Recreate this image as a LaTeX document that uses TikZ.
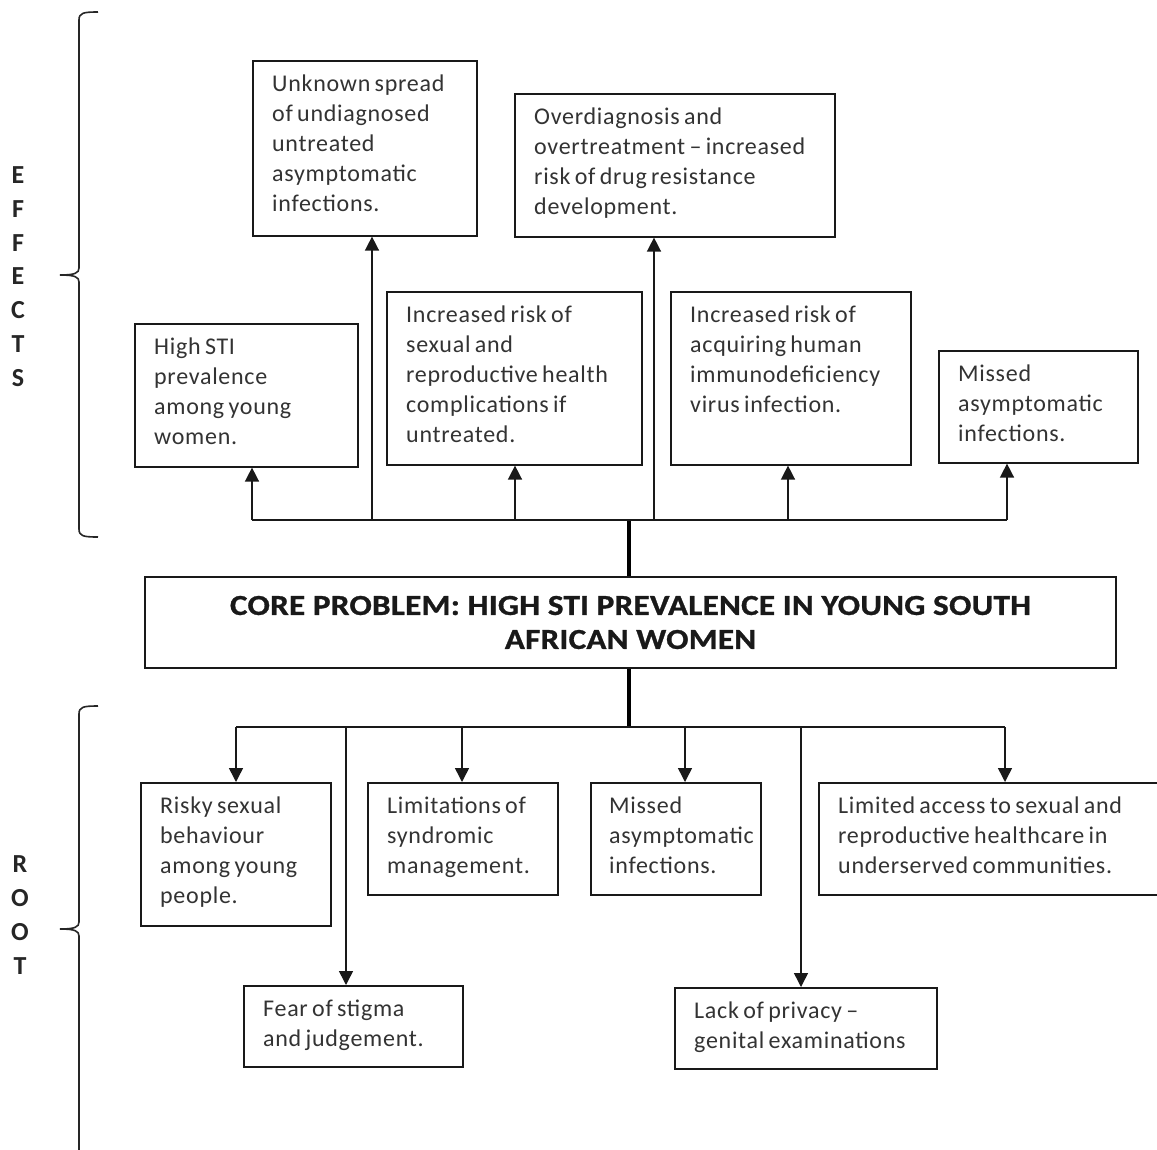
\documentclass[tikz,border=0pt]{standalone}
\usepackage{fontspec}
\setmainfont{Carlito}
\newfontfamily\bodyf[LetterSpace=3,WordSpace=0.7]{Carlito}
\newfontfamily\coref[FakeStretch=1.14,LetterSpace=1,FakeBold=1]{Carlito Bold}
\usetikzlibrary{arrows.meta}
\definecolor{txtgray}{HTML}{333333}
\begin{document}
\begin{tikzpicture}[x=1pt,y=-1pt,
  box/.style={draw=black!90, line width=1.6pt, inner sep=0pt, anchor=north west},
  txt/.style={inner sep=0pt, anchor=north west, align=left, text=txtgray,
              font=\bodyf\fontsize{24}{30}\selectfont},
  conn/.style={line width=1.5pt, draw=black!90},
  arr/.style={conn, -{Triangle[length=14pt,width=14pt]}},
  thickline/.style={line width=3.5pt, draw=black},
  side/.style={inner sep=0pt, align=center, text=black!85, font=\bfseries\fontsize{26}{33.8}\selectfont},
  bracket/.style={line width=1.6pt, draw=black!85}
]
\useasboundingbox[fill=white] (0,0) rectangle (1157,1149);

% ---------- side labels and brackets ----------
\node[side] (eff) at (18,276.5) {E\\F\\F\\E\\C\\T\\S};
\node[side] (root) at (20,915) {R\\O\\O\\T};
\draw[bracket] (98,12) .. controls (83,12) and (79,13) .. (79,20) -- (79,268)
  .. controls (79,273) and (75,275) .. (60,275);
\draw[bracket] (60,275) .. controls (75,275) and (79,277) .. (79,282) -- (79,529)
  .. controls (79,536) and (83,537) .. (98,537);
\draw[bracket] (98,706) .. controls (83,706) and (79,707) .. (79,714) -- (79,922)
  .. controls (79,927) and (75,929) .. (60,929);
\draw[bracket] (60,929) .. controls (75,929) and (79,931) .. (79,936) -- (79,1152);

% ---------- effects boxes ----------
\node[box, minimum width=223pt, minimum height=143pt] (b1) at (134,323) {};
\node[box, minimum width=224pt, minimum height=175pt] (b2) at (252,60) {};
\node[box, minimum width=255pt, minimum height=173pt] (b3) at (386,291) {};
\node[box, minimum width=320pt, minimum height=143pt] (b4) at (514,93) {};
\node[box, minimum width=240pt, minimum height=173pt] (b5) at (670,291) {};
\node[box, minimum width=199pt, minimum height=112pt] (b6) at (938,350) {};

\node[txt] (b1t) at ([xshift=20pt,yshift=-10pt]b1.north west) {\strut High STI\\prevalence\\among young\\women.};
\node[txt] (b2t) at ([xshift=20pt,yshift=-10pt]b2.north west) {\strut Unknown spread\\of undiagnosed\\untreated\\asymptomatic\\infections.};
\node[txt] (b3t) at ([xshift=20pt,yshift=-10pt]b3.north west) {\strut Increased risk of\\sexual and\\reproductive health\\complications if\\untreated.};
\node[txt] (b4t) at ([xshift=20pt,yshift=-10pt]b4.north west) {\strut Overdiagnosis and\\overtreatment \textendash{} increased\\risk of drug resistance\\development.};
\node[txt] (b5t) at ([xshift=20pt,yshift=-10pt]b5.north west) {\strut Increased risk of\\acquiring human\\immunodeficiency\\virus infection.};
\node[txt] (b6t) at ([xshift=20pt,yshift=-10pt]b6.north west) {\strut Missed\\asymptomatic\\infections.};

% ---------- core problem ----------
\node[draw=black!90, line width=1.6pt, minimum width=971pt, minimum height=91pt,
      inner sep=0pt, align=center, text=black!90,
      font=\coref\fontsize{29}{34}\selectfont] (core) at (630.5,622.5)
  {CORE PROBLEM: HIGH STI PREVALENCE IN YOUNG SOUTH\\AFRICAN WOMEN};

% ---------- root boxes ----------
\node[box, minimum width=190pt, minimum height=143pt] (r1) at (140,782) {};
\node[box, minimum width=190pt, minimum height=112pt] (r2) at (367,782) {};
\node[box, minimum width=170pt, minimum height=112pt] (r3) at (590,782) {};
\node[box, minimum width=345pt, minimum height=112pt] (r4) at (818,782) {};
\node[box, minimum width=219pt, minimum height=81pt] (r5) at (243,985) {};
\node[box, minimum width=262pt, minimum height=81pt] (r6) at (674,987) {};

\node[txt] (r1t) at ([xshift=20pt,yshift=-10pt]r1.north west) {\strut Risky sexual\\behaviour\\among young\\people.};
\node[txt] (r2t) at ([xshift=20pt,yshift=-10pt]r2.north west) {\strut Limitations of\\syndromic\\management.};
\node[txt] (r3t) at ([xshift=19pt,yshift=-10pt]r3.north west) {\strut Missed\\asymptomatic\\infections.};
\node[txt] (r4t) at ([xshift=20pt,yshift=-10pt]r4.north west) {\strut Limited access to sexual and\\reproductive healthcare in\\underserved communities.};
\node[txt] (r5t) at ([xshift=20pt,yshift=-10pt]r5.north west) {\strut Fear of stigma\\and judgement.};
\node[txt] (r6t) at ([xshift=20pt,yshift=-10pt]r6.north west) {\strut Lack of privacy \textendash\\genital examinations};

% ---------- effects connectors ----------
\coordinate (eb) at (629,520);
\coordinate (e1) at (252,520);
\coordinate (e2) at (372,520);
\coordinate (e3) at (515,520);
\coordinate (e4) at (654,520);
\coordinate (e5) at (788,520);
\coordinate (e6) at (1007,520);
\draw[thickline] (core.north -| eb) -- (eb);
\draw[conn] (e1) -- (e6);
\draw[arr] (e1) -- (e1 |- b1.south);
\draw[arr] (e2) -- (e2 |- b2.south);
\draw[arr] (e3) -- (e3 |- b3.south);
\draw[arr] (e4) -- (e4 |- b4.south);
\draw[arr] (e5) -- (e5 |- b5.south);
\draw[arr] (e6) -- (e6 |- b6.south);

% ---------- root connectors ----------
\coordinate (rb) at (629,727);
\coordinate (c1) at (236,727);
\coordinate (c5) at (346,727);
\coordinate (c2) at (462,727);
\coordinate (c3) at (685,727);
\coordinate (c6) at (801,727);
\coordinate (c4) at (1005,727);
\draw[thickline] (core.south -| rb) -- (rb);
\draw[conn] (c1) -- (c4);
\draw[arr] (c1) -- (c1 |- r1.north);
\draw[arr] (c5) -- (c5 |- r5.north);
\draw[arr] (c2) -- (c2 |- r2.north);
\draw[arr] (c3) -- (c3 |- r3.north);
\draw[arr] (c6) -- (c6 |- r6.north);
\draw[arr] (c4) -- (c4 |- r4.north);
\end{tikzpicture}
\end{document}
